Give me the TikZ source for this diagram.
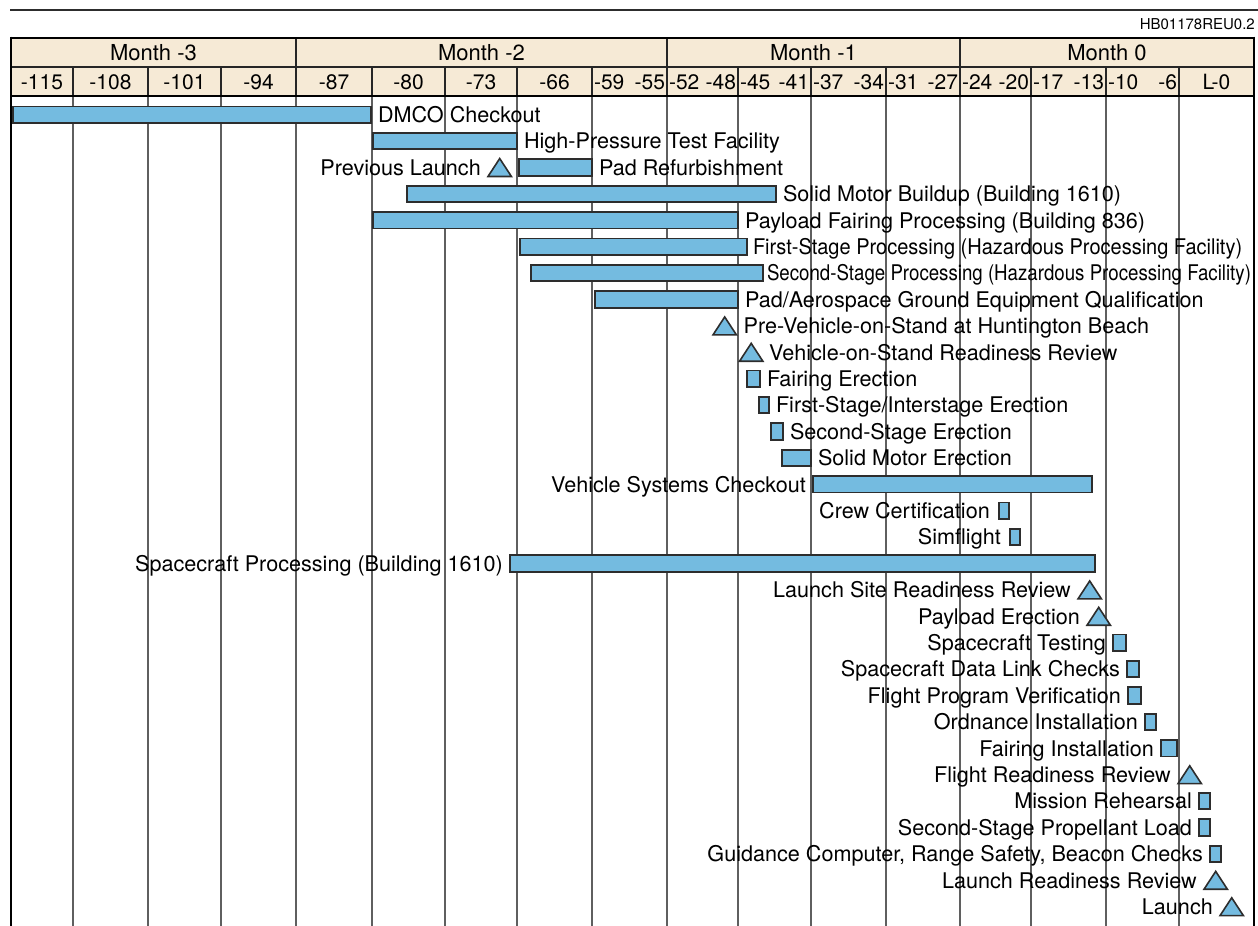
\documentclass[tikz,border=0pt]{standalone}
\usepackage{fontspec}
\setmainfont{TeX Gyre Heros}
\usepackage{xcolor}
\usepackage{graphicx}
\usetikzlibrary{positioning,calc}

\definecolor{barblue}{RGB}{116,187,224}
\definecolor{headtan}{RGB}{246,234,214}
\definecolor{gridgray}{RGB}{95,95,95}
\definecolor{edgegray}{RGB}{45,45,45}

\begin{document}
\begin{tikzpicture}[x=1pt, y=-1pt,
    every node/.style={font=\fontsize{21.6}{26}\selectfont},
    task/.style={rectangle, draw=edgegray, fill=barblue, line width=1.8pt, minimum height=16.5pt, inner sep=0pt, anchor=west},
    milestone/.style={rectangle, minimum width=23pt, minimum height=17.5pt, inner sep=0pt, anchor=west},
    tri/.style={draw=edgegray, fill=barblue, line width=1.6pt, line join=miter},
    lbl/.style={inner sep=0pt, text height=15.5pt, text depth=0pt},
    head/.style={inner sep=0pt, text height=15pt, text depth=0pt, font=\fontsize{21}{25}\selectfont},
    gridline/.style={draw=gridgray, line width=1.3pt},
    headline/.style={draw=black!85, line width=1.6pt},
    frame/.style={draw=black, line width=2.8pt}
]
    \useasboundingbox (0,0) rectangle (1258,926);

    \draw[edgegray, line width=1.6pt] (10,10) -- (1258,10);
    \node[anchor=base east, inner sep=0pt, font=\fontsize{15}{18}\selectfont] (docid) at (1255,29) {HB01178REU0.2};

    \fill[headtan] (11,38) rectangle (1254,96);
    \foreach \x in {73,148,221,296,372,445,517,592,667,738,811,886,960,1031,1106,1179}
        \draw[gridline] (\x,96) -- (\x,926);
    \foreach \xa/\xb/\t in {11/296/Month -3, 296/667/Month -2, 667/960/Month -1, 960/1254/Month 0} {
        \node[head, text height=15.8pt, font=\fontsize{22}{26}\selectfont] (month\xb) at ({(\xa+\xb)/2},52.5) {\t};
        \draw[headline] (\xb,38) -- (\xb,67);
    }
    \foreach \xa/\xb/\t in {11/73/-115, 73/148/-108, 148/221/-101, 221/296/-94, 296/372/-87, 372/445/-80,
            445/517/-73, 517/592/-66, 592/667/-59\hfill-55, 667/738/-52\hfill-48, 738/811/-45\hfill-41,
            811/886/-37\hfill-34, 886/960/-31\hfill-27, 960/1031/-24\hfill-20, 1031/1106/-17\hfill-13,
            1106/1179/-10\hfill-6, 1179/1254/L-0} {
        \pgfmathsetmacro\colw{\xb-\xa-4}
        \node[head] (tick\xb) at ({(\xa+\xb)/2},81.5) {\makebox[\colw pt]{\t}};
        \draw[headline] (\xb,67) -- (\xb,96);
    }
    \draw[headline] (11,67) -- (1254,67);
    \draw[frame] (11,38) -- (1254,38);
    \draw[frame] (11,96) -- (1254,96);
    \draw[frame] (11,36.6) -- (11,926);
    \draw[frame] (1254,36.6) -- (1254,926);

    \node[task, minimum width=358pt] (dmco) at (12,114.7) {};
    \node[lbl, right=6pt of dmco] (dmco-l) {DMCO Checkout};
    \node[task, minimum width=144pt] (hptf) at (372,141.1) {};
    \node[lbl, right=6pt of hptf] (hptf-l) {High-Pressure Test Facility};
    \node[task, minimum width=73pt] (padref) at (518,167.5) {};
    \node[lbl, right=6pt of padref] (padref-l) {Pad Refurbishment};
    \node[milestone] (prevlaunch) at (488,167.5) {};
    \node[lbl, left=7pt of prevlaunch] (prevlaunch-l) {Previous Launch};
    \node[task, minimum width=369pt] (smb) at (406,193.9) {};
    \node[lbl, right=6pt of smb] (smb-l) {Solid Motor Buildup (Building 1610)};
    \node[task, minimum width=365pt] (pfp) at (372,220.3) {};
    \node[lbl, right=6pt of pfp] (pfp-l) {Payload Fairing Processing (Building 836)};
    \node[task, minimum width=227pt] (fsp) at (519,246.7) {};
    \node[lbl, right=5pt of fsp] (fsp-l) {\scalebox{0.926}[1]{First-Stage Processing (Hazardous Processing Facility)}};
    \node[task, minimum width=232pt] (ssp) at (530,273.1) {};
    \node[lbl, right=3pt of ssp] (ssp-l) {\scalebox{0.865}[1]{Second-Stage Processing (Hazardous Processing Facility)}};
    \node[task, minimum width=143pt] (pageq) at (594,299.5) {};
    \node[lbl, right=6pt of pageq] (pageq-l) {Pad/Aerospace Ground Equipment Qualification};
    \node[milestone] (prevos) at (713,325.9) {};
    \node[lbl, right=7pt of prevos] (prevos-l) {Pre-Vehicle-on-Stand at Huntington Beach};
    \node[milestone] (vosrr) at (739.5,352.3) {};
    \node[lbl, right=6pt of vosrr] (vosrr-l) {Vehicle-on-Stand Readiness Review};
    \node[task, minimum width=13pt] (faire) at (746,378.7) {};
    \node[lbl, right=6pt of faire] (faire-l) {Fairing Erection};
    \node[task, minimum width=10pt] (fsie) at (758,405.1) {};
    \node[lbl, right=6pt of fsie] (fsie-l) {First-Stage/Interstage Erection};
    \node[task, minimum width=12pt] (sse) at (770,431.5) {};
    \node[lbl, right=6pt of sse] (sse-l) {Second-Stage Erection};
    \node[task, minimum width=29pt] (sme) at (781,457.9) {};
    \node[lbl, right=6pt of sme] (sme-l) {Solid Motor Erection};
    \node[task, minimum width=279pt] (vsc) at (812,484.3) {};
    \node[lbl, left=6pt of vsc] (vsc-l) {Vehicle Systems Checkout};
    \node[task, minimum width=10pt] (crew) at (998,510.7) {};
    \node[lbl, left=8pt of crew] (crew-l) {Crew Certification};
    \node[task, minimum width=10pt] (simf) at (1009,537.1) {};
    \node[lbl, left=8pt of simf] (simf-l) {Simflight};
    \node[task, minimum width=585pt] (scp) at (509,563.5) {};
    \node[lbl, left=6pt of scp] (scp-l) {Spacecraft Processing (Building 1610)};
    \node[milestone] (lsrr) at (1078,589.9) {};
    \node[lbl, left=7pt of lsrr] (lsrr-l) {Launch Site Readiness Review};
    \node[milestone] (payerect) at (1087,616.3) {};
    \node[lbl, left=7pt of payerect] (payerect-l) {Payload Erection};
    \node[task, minimum width=13pt] (sctest) at (1112,642.7) {};
    \node[lbl, left=6pt of sctest] (sctest-l) {Spacecraft Testing};
    \node[task, minimum width=12pt] (dlink) at (1126,669.1) {};
    \node[lbl, left=6pt of dlink] (dlink-l) {Spacecraft Data Link Checks};
    \node[task, minimum width=13pt] (fpv) at (1127,695.5) {};
    \node[lbl, left=6pt of fpv] (fpv-l) {Flight Program Verification};
    \node[task, minimum width=11pt] (ordn) at (1144,721.9) {};
    \node[lbl, left=6pt of ordn] (ordn-l) {Ordnance Installation};
    \node[task, minimum width=16pt] (fairi) at (1160,748.3) {};
    \node[lbl, left=6pt of fairi] (fairi-l) {Fairing Installation};
    \node[milestone] (frr) at (1178,774.7) {};
    \node[lbl, left=7pt of frr] (frr-l) {Flight Readiness Review};
    \node[task, minimum width=11pt] (mreh) at (1198,801.1) {};
    \node[lbl, left=6pt of mreh] (mreh-l) {Mission Rehearsal};
    \node[task, minimum width=11pt] (propload) at (1198,827.5) {};
    \node[lbl, left=6pt of propload] (propload-l) {Second-Stage Propellant Load};
    \node[task, minimum width=11pt] (gcrs) at (1209,853.9) {};
    \node[lbl, left=6pt of gcrs] (gcrs-l) {Guidance Computer, Range Safety, Beacon Checks};
    \node[milestone] (lrr) at (1204,880.3) {};
    \node[lbl, left=7pt of lrr] (lrr-l) {Launch Readiness Review};
    \node[milestone] (launch) at (1220,906.7) {};
    \node[lbl, left=7pt of launch] (launch-l) {Launch};

    \foreach \m in {prevlaunch, prevos, vosrr, lsrr, payerect, frr, lrr, launch}
        \draw[tri] (\m.south west) -- (\m.south east) -- (\m.north) -- cycle;
\end{tikzpicture}
\end{document}
